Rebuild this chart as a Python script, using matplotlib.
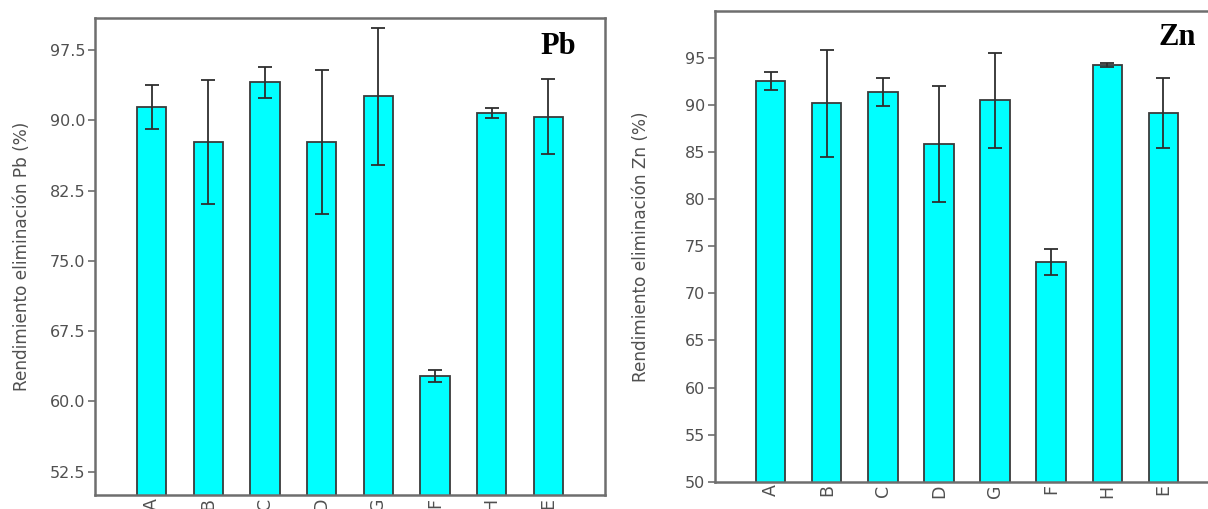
import matplotlib
matplotlib.use("Agg")
import matplotlib.pyplot as plt

# muestras (orden del eje x)
muestras = ["A", "B", "C", "D", "G", "F", "H", "E"]

# rendimiento de eliminación Pb (%) y error
pb_media = [91.45, 87.68, 94.07, 87.68, 92.57, 62.69, 90.80, 90.41]
pb_error = [2.35, 6.62, 1.63, 7.70, 7.33, 0.61, 0.50, 3.98]

# rendimiento de eliminación Zn (%) y error
zn_media = [92.58, 90.20, 91.42, 85.84, 90.51, 73.30, 94.25, 89.17]
zn_error = [0.94, 5.67, 1.48, 6.15, 5.02, 1.37, 0.18, 3.76]

pb_ticks = [52.5, 60.0, 67.5, 75.0, 82.5, 90.0, 97.5]
zn_ticks = [50, 55, 60, 65, 70, 75, 80, 85, 90, 95]

gris = "#6e6e6e"
texto = "#505050"


def panel(ax, medias, errores, ticks, fmt, ylim, ylabel, metal, label_x, metal_pos):
    x = range(len(muestras))
    ax.bar(x, medias, width=0.52, color="#00ffff", edgecolor="#3a3a3a",
           linewidth=1.3, zorder=2)
    ax.errorbar(x, medias, yerr=errores, fmt="none", ecolor="#2e2e2e",
                elinewidth=1.3, capsize=4.8, capthick=1.3, zorder=3)
    ax.set_xlim(-1, 8)
    ax.set_ylim(*ylim)
    ax.set_xticks(list(x))
    ax.set_xticklabels(muestras, rotation=90, fontsize=12.5, color=texto)
    ax.tick_params(axis="x", length=0, pad=2)
    ax.set_yticks(ticks)
    ax.set_yticklabels([fmt.format(t) for t in ticks], fontsize=11.5, color=texto)
    ax.tick_params(axis="y", length=5, width=1.2, color=gris, pad=2)
    for s in ax.spines.values():
        s.set_color(gris)
        s.set_linewidth(1.8)
    ax.set_ylabel(ylabel, fontsize=12.2, color=texto)
    ax.yaxis.set_label_coords(label_x, 0.5)
    ax.text(metal_pos[0], metal_pos[1], metal, transform=ax.transAxes,
            fontsize=22, fontweight="bold", family="Liberation Serif",
            ha="center", va="center", color="black")


fig = plt.figure(figsize=(12.08, 5.09), dpi=100)
ax1 = fig.add_axes([95 / 1208, 1 - 495 / 509, 510 / 1208, (495 - 18.3) / 509])
ax2 = fig.add_axes([714.8 / 1208, 1 - 481.7 / 509, 504.4 / 1208, (481.7 - 11) / 509])

panel(ax1, pb_media, pb_error, pb_ticks, "{:.1f}", (50, 100.9),
      "Rendimiento eliminación Pb (%)", "Pb", -0.126, (0.908, 0.94))
panel(ax2, zn_media, zn_error, zn_ticks, "{:.0f}", (50, 100),
      "Rendimiento eliminación Zn (%)", "Zn", -0.128, (0.916, 0.943))

fig.savefig("out.png", dpi=100)
